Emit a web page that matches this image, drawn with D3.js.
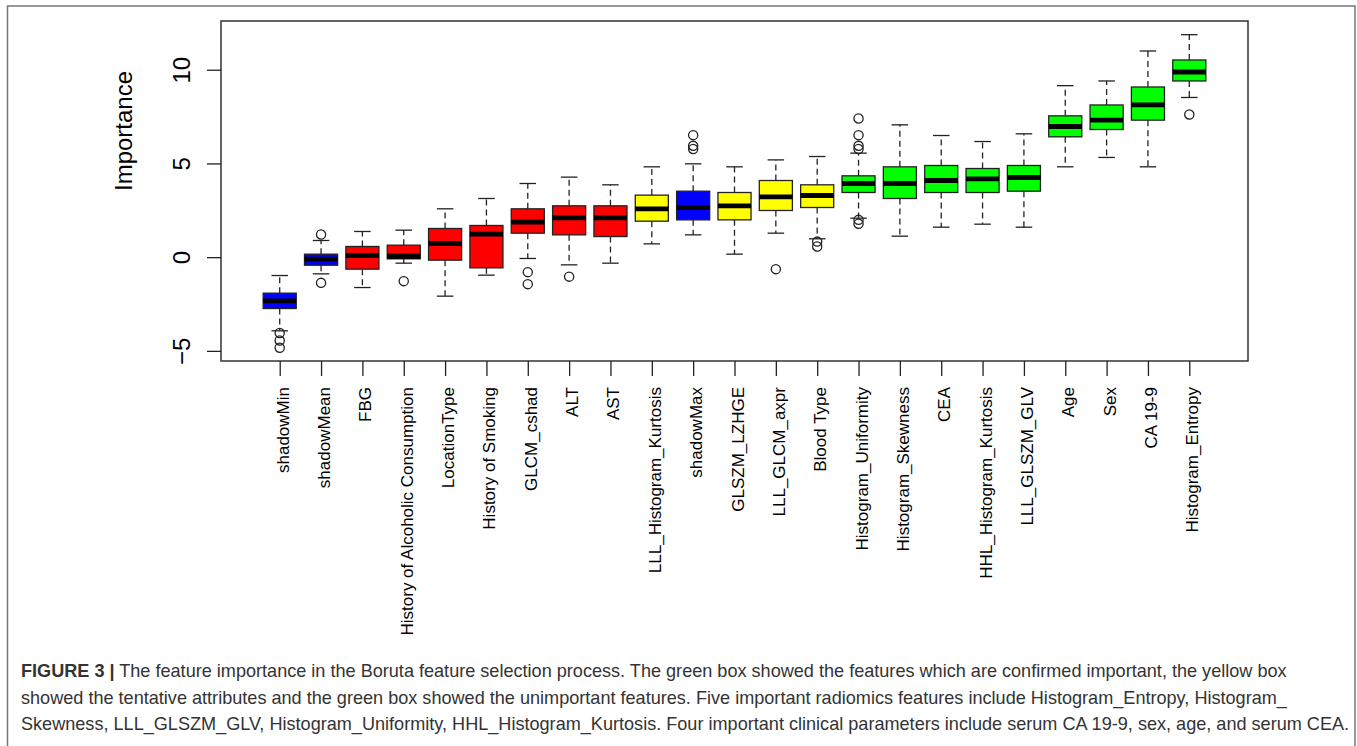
<!DOCTYPE html>
<html>
<head>
<meta charset="utf-8">
<script src="https://cdn.jsdelivr.net/npm/d3@7"></script>
<style>
  body { margin: 0; background: #fff; }
  svg { display: block; font-family: "Liberation Sans", Arial, sans-serif; }
  .axis text { fill: #000; }
  .axis line { stroke: #222; stroke-width: 1.3; }
  .caption { fill: #333; font-size: 18.1px; }
</style>
</head>
<body>
<div class="responsive-svg-container"></div>
<script>
// Boruta feature importance
const features = ["shadowMin", "shadowMean", "FBG", "History of Alcoholic Consumption",
  "LocationType", "History of Smoking", "GLCM_cshad", "ALT", "AST",
  "LLL_Histogram_Kurtosis", "shadowMax", "GLSZM_LZHGE", "LLL_GLCM_axpr", "Blood Type",
  "Histogram_Uniformity", "Histogram_Skewness", "CEA", "HHL_Histogram_Kurtosis",
  "LLL_GLSZM_GLV", "Age", "Sex", "CA 19-9", "Histogram_Entropy"];

const decision = ["shadow", "shadow", "rejected", "rejected", "rejected", "rejected",
  "rejected", "rejected", "rejected", "tentative", "shadow", "tentative", "tentative",
  "tentative", "confirmed", "confirmed", "confirmed", "confirmed", "confirmed",
  "confirmed", "confirmed", "confirmed", "confirmed"];

const whiskerLow = [-3.93, -0.89, -1.62, -0.32, -2.08, -0.96, -0.07, -0.41, -0.32, 0.71,
  1.19, 0.16, 1.28, 0.98, 2.08, 1.12, 1.60, 1.76, 1.60, 4.82, 5.32, 4.82, 8.52];
const q1 = [-2.74, -0.43, -0.64, -0.09, -0.16, -0.57, 1.28, 1.19, 1.10, 1.92,
  1.99, 1.99, 2.49, 2.65, 3.45, 3.13, 3.45, 3.45, 3.52, 6.42, 6.81, 7.31, 9.40];
const median = [-2.33, -0.11, 0.09, 0.05, 0.73, 1.23, 1.87, 2.10, 2.10, 2.58,
  2.65, 2.74, 3.22, 3.29, 3.93, 3.93, 4.09, 4.18, 4.25, 6.97, 7.31, 8.12, 9.88];
const q3 = [-1.92, 0.16, 0.57, 0.64, 1.53, 1.69, 2.58, 2.74, 2.74, 3.31,
  3.52, 3.45, 4.09, 3.86, 4.34, 4.82, 4.89, 4.73, 4.89, 7.54, 8.12, 9.08, 10.52];
const whiskerHigh = [-0.98, 0.89, 1.37, 1.44, 2.58, 3.13, 3.93, 4.27, 3.86, 4.82,
  4.98, 4.82, 5.19, 5.37, 5.55, 7.06, 6.49, 6.17, 6.58, 9.15, 9.40, 11.0, 11.87];
const outliers = [[-4.05, -4.45, -4.83], [1.21, -1.37], [], [-1.28], [], [],
  [-0.8, -1.44], [-1.04], [], [], [5.77, 5.94, 6.51], [], [-0.64], [0.83, 0.57],
  [5.77, 5.94, 6.51, 7.40, 1.99, 1.78], [], [], [], [], [], [], [], [7.61]];

const yTicks = [-5, 0, 5, 10];

const captionLines = [
  " The feature importance in the Boruta feature selection process. The green box showed the features which are confirmed important, the yellow box",
  "showed the tentative attributes and the green box showed the unimportant features. Five important radiomics features include Histogram_Entropy, Histogram_",
  "Skewness, LLL_GLSZM_GLV, Histogram_Uniformity, HHL_Histogram_Kurtosis. Four important clinical parameters include serum CA 19-9, sex, age, and serum CEA."
];

const fillColor = { shadow: "#0000ff", rejected: "#ff0000", tentative: "#ffff00", confirmed: "#00ff00" };

const data = features.map((f, i) => ({
  name: f, idx: i + 1, status: decision[i],
  lo: whiskerLow[i], q1: q1[i], med: median[i], q3: q3[i], hi: whiskerHigh[i],
  out: outliers[i]
}));

drawChart(data);

function drawChart(data) {
  const width = 1357;
  const height = 746;
  const plot = { left: 221, top: 21, right: 1248, bottom: 361 };
  const n = data.length;

  const svg = d3.select(".responsive-svg-container")
    .append("svg")
    .attr("width", width)
    .attr("height", height);

  // outer figure frame
  svg.append("rect")
    .attr("x", 7.5).attr("y", 6)
    .attr("width", 1347.5).attr("height", 760)
    .attr("fill", "none")
    .attr("stroke", "#777")
    .attr("stroke-width", 1.5);

  // R style: xlim = [0.5, n + 0.5] stretched by 4%
  const xScale = d3.scaleLinear()
    .domain([0.5 - 0.04 * n, n + 0.5 + 0.04 * n])
    .range([plot.left, plot.right]);

  const yScale = d3.scaleLinear()
    .domain([-5.54, 12.6])
    .range([plot.bottom, plot.top]);

  const step = xScale(2) - xScale(1);
  const boxW = step * 0.8;
  const capW = boxW * 0.5;

  const boxes = svg.append("g").selectAll("g")
    .data(data)
    .join("g")
    .attr("transform", d => `translate(${xScale(d.idx)},0)`);

  // whiskers
  boxes.append("line")
    .attr("y1", d => yScale(d.q3)).attr("y2", d => yScale(d.hi))
    .attr("stroke", "#222").attr("stroke-width", 1.3).attr("stroke-dasharray", "6,4");
  boxes.append("line")
    .attr("y1", d => yScale(d.q1)).attr("y2", d => yScale(d.lo))
    .attr("stroke", "#222").attr("stroke-width", 1.3).attr("stroke-dasharray", "6,4");

  // staples
  boxes.append("line")
    .attr("x1", -capW / 2).attr("x2", capW / 2)
    .attr("y1", d => yScale(d.hi)).attr("y2", d => yScale(d.hi))
    .attr("stroke", "#222").attr("stroke-width", 1.3);
  boxes.append("line")
    .attr("x1", -capW / 2).attr("x2", capW / 2)
    .attr("y1", d => yScale(d.lo)).attr("y2", d => yScale(d.lo))
    .attr("stroke", "#222").attr("stroke-width", 1.3);

  boxes.append("rect")
    .attr("x", -boxW / 2)
    .attr("width", boxW)
    .attr("y", d => yScale(d.q3))
    .attr("height", d => yScale(d.q1) - yScale(d.q3))
    .attr("fill", d => fillColor[d.status])
    .attr("stroke", "#222")
    .attr("stroke-width", 1.3);

  boxes.append("line")
    .attr("x1", -boxW / 2).attr("x2", boxW / 2)
    .attr("y1", d => yScale(d.med)).attr("y2", d => yScale(d.med))
    .attr("stroke", "#000").attr("stroke-width", 4.8);

  boxes.selectAll("circle")
    .data(d => d.out)
    .join("circle")
    .attr("cy", v => yScale(v))
    .attr("r", 4.6)
    .attr("fill", "none")
    .attr("stroke", "#222")
    .attr("stroke-width", 1.3);

  // plot frame
  svg.append("rect")
    .attr("x", plot.left).attr("y", plot.top)
    .attr("width", plot.right - plot.left)
    .attr("height", plot.bottom - plot.top)
    .attr("fill", "none")
    .attr("stroke", "#333")
    .attr("stroke-width", 1.5);

  const yAxis = svg.append("g")
    .attr("class", "axis")
    .attr("transform", `translate(${plot.left},0)`)
    .call(d3.axisLeft(yScale).tickValues(yTicks).tickSize(14).tickFormat(d3.format("d")));
  yAxis.select(".domain").remove();
  yAxis.selectAll("text")
    .attr("x", null).attr("dy", null)
    .attr("text-anchor", "middle")
    .attr("transform", "translate(-31.5,0) rotate(-90)")
    .style("font-size", "24px")
    .style("font-family", "Liberation Sans, Arial, sans-serif");

  const xAxis = svg.append("g")
    .attr("class", "axis")
    .attr("transform", `translate(0,${plot.bottom})`)
    .call(d3.axisBottom(xScale)
      .tickValues(data.map(d => d.idx))
      .tickFormat(i => features[i - 1])
      .tickSize(15));
  xAxis.select(".domain").remove();
  xAxis.selectAll("text")
    .attr("y", null).attr("dy", "0.5em")
    .attr("text-anchor", "end")
    .attr("transform", "translate(0,26) rotate(-90)")
    .style("font-size", "17px")
    .style("font-family", "Liberation Sans, Arial, sans-serif");

  svg.append("text")
    .attr("transform", "translate(131.5,131) rotate(-90)")
    .attr("text-anchor", "middle")
    .style("font-size", "24px")
    .text("Importance");

  // caption
  const cap = svg.append("g").attr("class", "caption");
  const first = cap.append("text").attr("x", 21).attr("y", 677);
  first.append("tspan").attr("font-weight", "bold").text("FIGURE 3 |");
  first.append("tspan").text(captionLines[0]);
  cap.append("text").attr("x", 21).attr("y", 704).text(captionLines[1]);
  cap.append("text").attr("x", 21).attr("y", 730).text(captionLines[2]);
}
</script>
</body>
</html>
